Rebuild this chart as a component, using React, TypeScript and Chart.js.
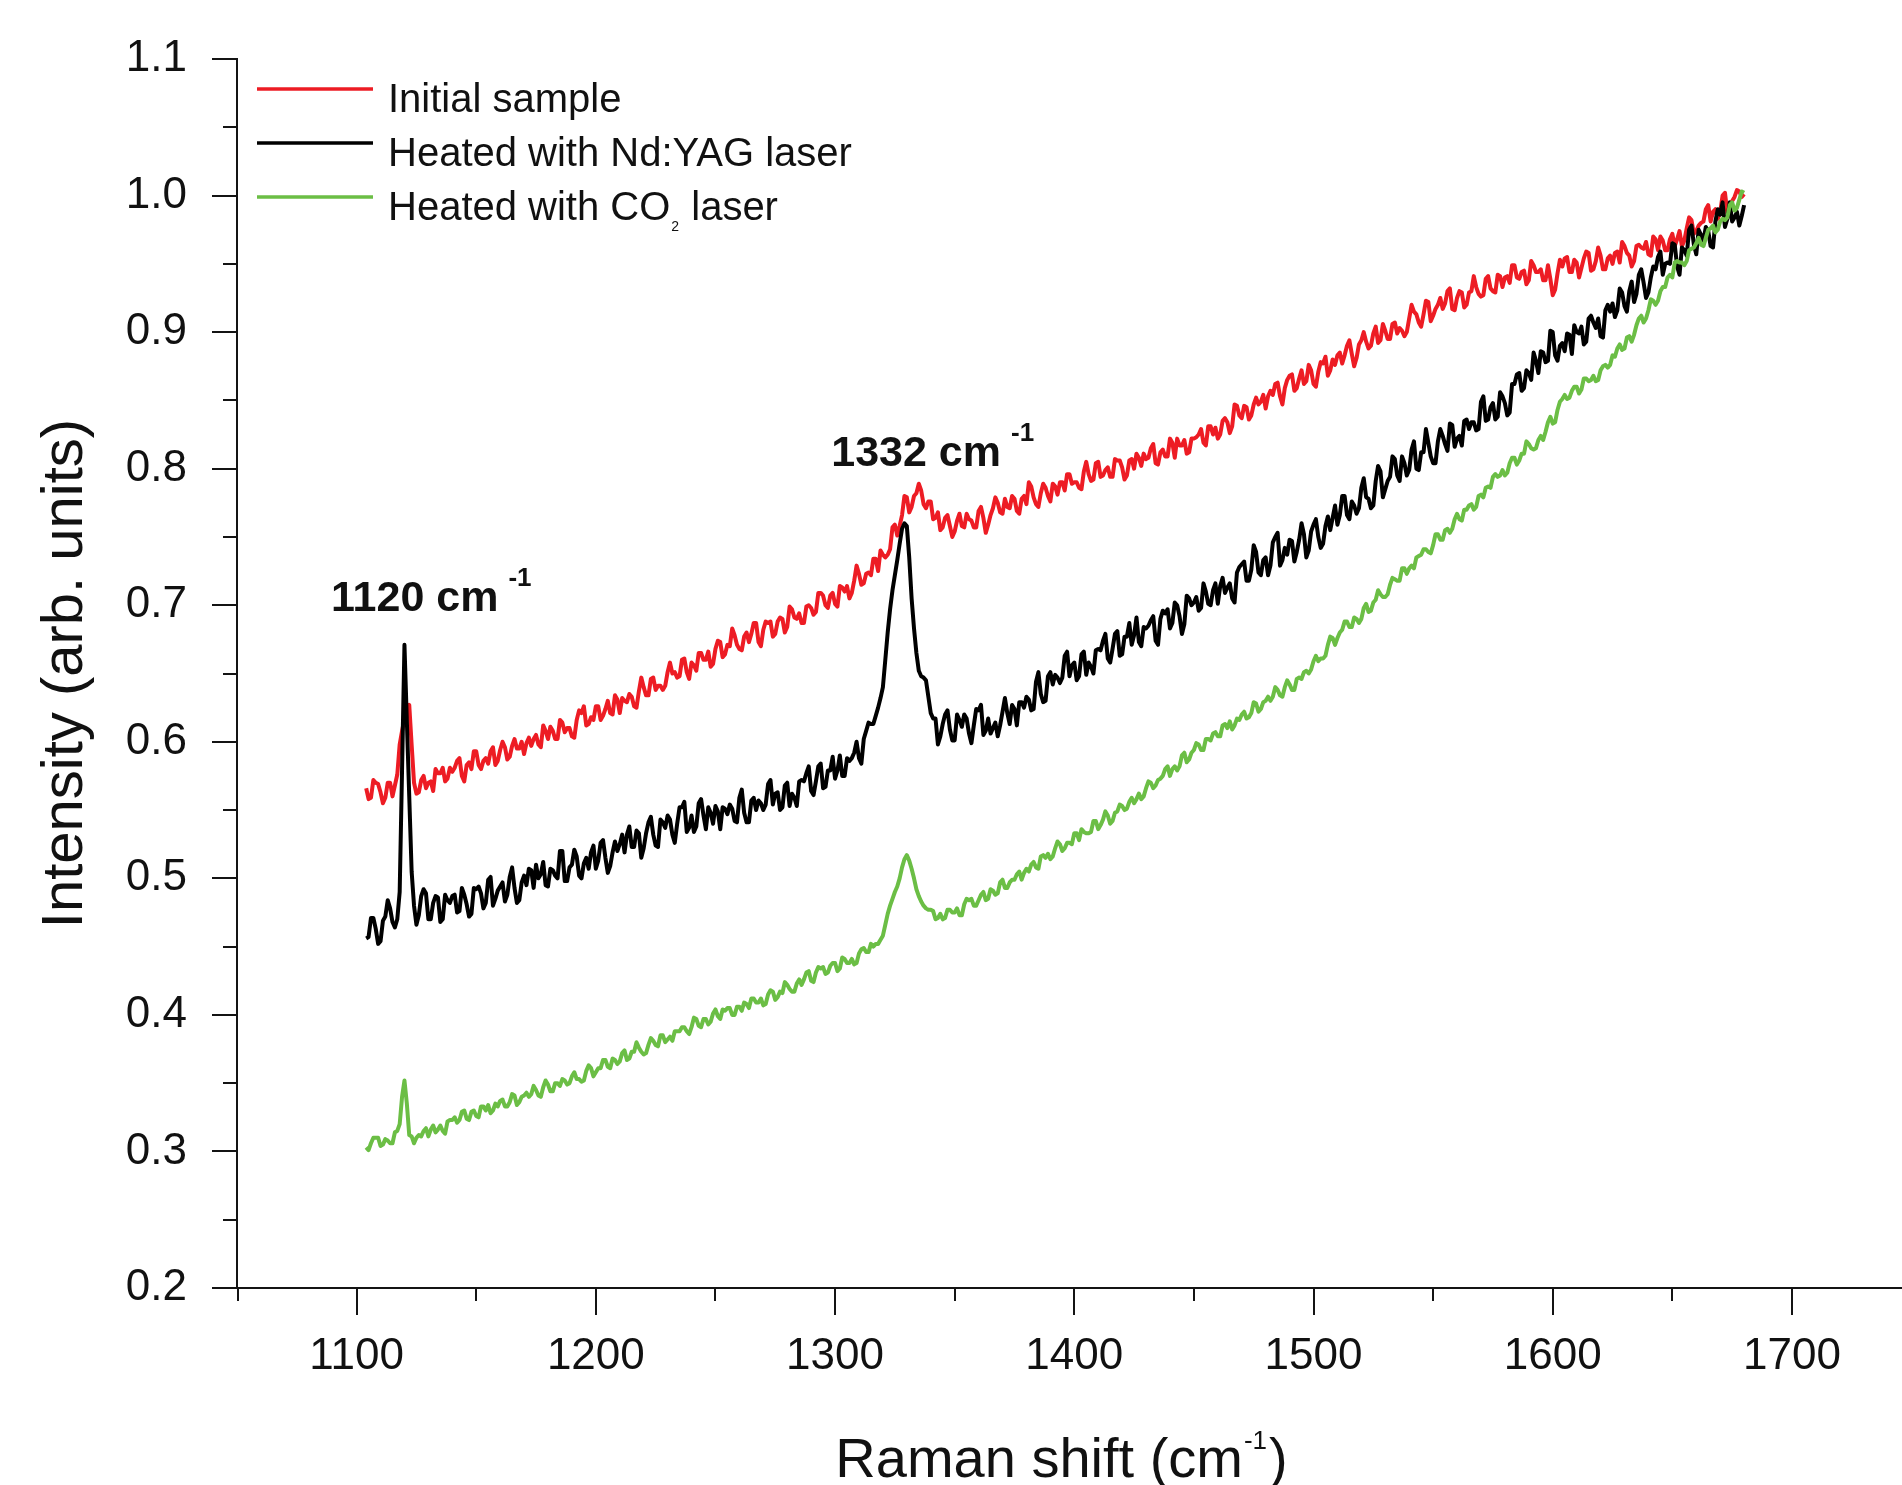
import React, { useEffect, useRef } from 'react';
import { Chart, registerables } from 'chart.js';

Chart.register(...registerables);

// ---------------- data (Raman shift in cm-1, one sample per cm-1) ----------------
const ramanShift = [
  1104, 1105, 1106, 1107, 1108, 1109, 1110, 1111, 1112, 1113, 1114, 1115, 1116, 1117, 1118, 1119, 1120, 1121, 1122, 1123,
  1124, 1125, 1126, 1127, 1128, 1129, 1130, 1131, 1132, 1133, 1134, 1135, 1136, 1137, 1138, 1139, 1140, 1141, 1142, 1143,
  1144, 1145, 1146, 1147, 1148, 1149, 1150, 1151, 1152, 1153, 1154, 1155, 1156, 1157, 1158, 1159, 1160, 1161, 1162, 1163,
  1164, 1165, 1166, 1167, 1168, 1169, 1170, 1171, 1172, 1173, 1174, 1175, 1176, 1177, 1178, 1179, 1180, 1181, 1182, 1183,
  1184, 1185, 1186, 1187, 1188, 1189, 1190, 1191, 1192, 1193, 1194, 1195, 1196, 1197, 1198, 1199, 1200, 1201, 1202, 1203,
  1204, 1205, 1206, 1207, 1208, 1209, 1210, 1211, 1212, 1213, 1214, 1215, 1216, 1217, 1218, 1219, 1220, 1221, 1222, 1223,
  1224, 1225, 1226, 1227, 1228, 1229, 1230, 1231, 1232, 1233, 1234, 1235, 1236, 1237, 1238, 1239, 1240, 1241, 1242, 1243,
  1244, 1245, 1246, 1247, 1248, 1249, 1250, 1251, 1252, 1253, 1254, 1255, 1256, 1257, 1258, 1259, 1260, 1261, 1262, 1263,
  1264, 1265, 1266, 1267, 1268, 1269, 1270, 1271, 1272, 1273, 1274, 1275, 1276, 1277, 1278, 1279, 1280, 1281, 1282, 1283,
  1284, 1285, 1286, 1287, 1288, 1289, 1290, 1291, 1292, 1293, 1294, 1295, 1296, 1297, 1298, 1299, 1300, 1301, 1302, 1303,
  1304, 1305, 1306, 1307, 1308, 1309, 1310, 1311, 1312, 1313, 1314, 1315, 1316, 1317, 1318, 1319, 1320, 1321, 1322, 1323,
  1324, 1325, 1326, 1327, 1328, 1329, 1330, 1331, 1332, 1333, 1334, 1335, 1336, 1337, 1338, 1339, 1340, 1341, 1342, 1343,
  1344, 1345, 1346, 1347, 1348, 1349, 1350, 1351, 1352, 1353, 1354, 1355, 1356, 1357, 1358, 1359, 1360, 1361, 1362, 1363,
  1364, 1365, 1366, 1367, 1368, 1369, 1370, 1371, 1372, 1373, 1374, 1375, 1376, 1377, 1378, 1379, 1380, 1381, 1382, 1383,
  1384, 1385, 1386, 1387, 1388, 1389, 1390, 1391, 1392, 1393, 1394, 1395, 1396, 1397, 1398, 1399, 1400, 1401, 1402, 1403,
  1404, 1405, 1406, 1407, 1408, 1409, 1410, 1411, 1412, 1413, 1414, 1415, 1416, 1417, 1418, 1419, 1420, 1421, 1422, 1423,
  1424, 1425, 1426, 1427, 1428, 1429, 1430, 1431, 1432, 1433, 1434, 1435, 1436, 1437, 1438, 1439, 1440, 1441, 1442, 1443,
  1444, 1445, 1446, 1447, 1448, 1449, 1450, 1451, 1452, 1453, 1454, 1455, 1456, 1457, 1458, 1459, 1460, 1461, 1462, 1463,
  1464, 1465, 1466, 1467, 1468, 1469, 1470, 1471, 1472, 1473, 1474, 1475, 1476, 1477, 1478, 1479, 1480, 1481, 1482, 1483,
  1484, 1485, 1486, 1487, 1488, 1489, 1490, 1491, 1492, 1493, 1494, 1495, 1496, 1497, 1498, 1499, 1500, 1501, 1502, 1503,
  1504, 1505, 1506, 1507, 1508, 1509, 1510, 1511, 1512, 1513, 1514, 1515, 1516, 1517, 1518, 1519, 1520, 1521, 1522, 1523,
  1524, 1525, 1526, 1527, 1528, 1529, 1530, 1531, 1532, 1533, 1534, 1535, 1536, 1537, 1538, 1539, 1540, 1541, 1542, 1543,
  1544, 1545, 1546, 1547, 1548, 1549, 1550, 1551, 1552, 1553, 1554, 1555, 1556, 1557, 1558, 1559, 1560, 1561, 1562, 1563,
  1564, 1565, 1566, 1567, 1568, 1569, 1570, 1571, 1572, 1573, 1574, 1575, 1576, 1577, 1578, 1579, 1580, 1581, 1582, 1583,
  1584, 1585, 1586, 1587, 1588, 1589, 1590, 1591, 1592, 1593, 1594, 1595, 1596, 1597, 1598, 1599, 1600, 1601, 1602, 1603,
  1604, 1605, 1606, 1607, 1608, 1609, 1610, 1611, 1612, 1613, 1614, 1615, 1616, 1617, 1618, 1619, 1620, 1621, 1622, 1623,
  1624, 1625, 1626, 1627, 1628, 1629, 1630, 1631, 1632, 1633, 1634, 1635, 1636, 1637, 1638, 1639, 1640, 1641, 1642, 1643,
  1644, 1645, 1646, 1647, 1648, 1649, 1650, 1651, 1652, 1653, 1654, 1655, 1656, 1657, 1658, 1659, 1660, 1661, 1662, 1663,
  1664, 1665, 1666, 1667, 1668, 1669, 1670, 1671, 1672, 1673, 1674, 1675, 1676, 1677, 1678, 1679, 1680,
];

const initialSample = [
  0.566, 0.558, 0.559, 0.572, 0.570, 0.569, 0.563, 0.555, 0.559, 0.570, 0.570, 0.560, 0.568, 0.576, 0.598, 0.608, 0.617, 0.624, 0.627, 0.598,
  0.570, 0.562, 0.563, 0.572, 0.575, 0.566, 0.570, 0.571, 0.564, 0.580, 0.577, 0.577, 0.581, 0.571, 0.573, 0.581, 0.578, 0.581, 0.586, 0.588,
  0.575, 0.571, 0.583, 0.585, 0.580, 0.593, 0.593, 0.583, 0.580, 0.586, 0.588, 0.584, 0.593, 0.596, 0.583, 0.586, 0.594, 0.600, 0.596, 0.587,
  0.589, 0.597, 0.602, 0.595, 0.595, 0.600, 0.591, 0.599, 0.603, 0.597, 0.602, 0.605, 0.598, 0.596, 0.612, 0.608, 0.602, 0.611, 0.608, 0.602,
  0.602, 0.616, 0.614, 0.607, 0.610, 0.610, 0.604, 0.603, 0.616, 0.623, 0.621, 0.626, 0.612, 0.613, 0.618, 0.616, 0.626, 0.626, 0.616, 0.619,
  0.624, 0.630, 0.621, 0.620, 0.634, 0.631, 0.621, 0.632, 0.630, 0.629, 0.635, 0.633, 0.626, 0.625, 0.637, 0.647, 0.640, 0.634, 0.634, 0.646,
  0.647, 0.638, 0.641, 0.641, 0.638, 0.641, 0.651, 0.658, 0.650, 0.651, 0.647, 0.648, 0.660, 0.661, 0.651, 0.646, 0.658, 0.656, 0.652, 0.665,
  0.665, 0.660, 0.660, 0.666, 0.655, 0.657, 0.668, 0.674, 0.673, 0.662, 0.664, 0.671, 0.670, 0.683, 0.678, 0.671, 0.668, 0.667, 0.677, 0.680,
  0.673, 0.679, 0.687, 0.687, 0.673, 0.670, 0.682, 0.688, 0.687, 0.688, 0.677, 0.679, 0.688, 0.691, 0.690, 0.680, 0.684, 0.699, 0.697, 0.691,
  0.690, 0.694, 0.687, 0.687, 0.699, 0.700, 0.698, 0.693, 0.695, 0.709, 0.709, 0.707, 0.700, 0.698, 0.707, 0.709, 0.701, 0.699, 0.714, 0.713,
  0.710, 0.714, 0.705, 0.709, 0.718, 0.729, 0.723, 0.715, 0.716, 0.723, 0.724, 0.722, 0.734, 0.734, 0.725, 0.740, 0.737, 0.735, 0.737, 0.741,
  0.757, 0.759, 0.751, 0.758, 0.766, 0.780, 0.779, 0.768, 0.772, 0.780, 0.782, 0.789, 0.784, 0.774, 0.771, 0.776, 0.776, 0.763, 0.764, 0.768,
  0.755, 0.757, 0.764, 0.766, 0.758, 0.750, 0.754, 0.762, 0.767, 0.758, 0.757, 0.767, 0.763, 0.762, 0.757, 0.757, 0.769, 0.772, 0.764, 0.753,
  0.759, 0.766, 0.771, 0.779, 0.775, 0.768, 0.767, 0.778, 0.772, 0.771, 0.780, 0.778, 0.769, 0.767, 0.778, 0.780, 0.774, 0.790, 0.787, 0.779,
  0.774, 0.772, 0.782, 0.789, 0.786, 0.780, 0.776, 0.789, 0.787, 0.781, 0.790, 0.790, 0.784, 0.796, 0.796, 0.789, 0.790, 0.790, 0.786, 0.785,
  0.798, 0.805, 0.796, 0.791, 0.792, 0.804, 0.805, 0.794, 0.795, 0.799, 0.801, 0.794, 0.794, 0.807, 0.806, 0.806, 0.801, 0.792, 0.795, 0.806,
  0.807, 0.800, 0.811, 0.808, 0.802, 0.811, 0.807, 0.808, 0.815, 0.818, 0.804, 0.803, 0.812, 0.814, 0.809, 0.809, 0.822, 0.819, 0.808, 0.822,
  0.817, 0.817, 0.821, 0.811, 0.812, 0.822, 0.822, 0.823, 0.825, 0.829, 0.819, 0.817, 0.831, 0.831, 0.825, 0.830, 0.822, 0.825, 0.835, 0.837,
  0.834, 0.826, 0.831, 0.847, 0.846, 0.839, 0.837, 0.846, 0.845, 0.836, 0.839, 0.847, 0.852, 0.847, 0.849, 0.854, 0.844, 0.853, 0.857, 0.854,
  0.862, 0.863, 0.853, 0.847, 0.859, 0.865, 0.868, 0.869, 0.857, 0.859, 0.866, 0.872, 0.862, 0.864, 0.876, 0.872, 0.862, 0.860, 0.871, 0.878,
  0.877, 0.882, 0.868, 0.872, 0.880, 0.876, 0.883, 0.885, 0.877, 0.883, 0.890, 0.894, 0.884, 0.875, 0.881, 0.891, 0.894, 0.900, 0.893, 0.888,
  0.890, 0.899, 0.904, 0.892, 0.894, 0.906, 0.901, 0.895, 0.895, 0.906, 0.907, 0.899, 0.903, 0.901, 0.897, 0.900, 0.910, 0.920, 0.915, 0.913,
  0.907, 0.904, 0.913, 0.923, 0.922, 0.908, 0.912, 0.917, 0.920, 0.925, 0.917, 0.921, 0.930, 0.932, 0.917, 0.916, 0.925, 0.930, 0.929, 0.918,
  0.920, 0.929, 0.930, 0.941, 0.933, 0.928, 0.926, 0.927, 0.939, 0.941, 0.932, 0.930, 0.929, 0.942, 0.941, 0.933, 0.940, 0.941, 0.936, 0.949,
  0.949, 0.940, 0.939, 0.944, 0.945, 0.935, 0.938, 0.952, 0.949, 0.944, 0.944, 0.946, 0.938, 0.938, 0.949, 0.939, 0.927, 0.931, 0.943, 0.953,
  0.948, 0.954, 0.955, 0.944, 0.944, 0.953, 0.951, 0.940, 0.947, 0.954, 0.959, 0.958, 0.945, 0.946, 0.952, 0.962, 0.956, 0.946, 0.946, 0.954,
  0.956, 0.950, 0.958, 0.959, 0.951, 0.966, 0.963, 0.958, 0.956, 0.948, 0.952, 0.963, 0.964, 0.962, 0.961, 0.966, 0.957, 0.956, 0.970, 0.968,
  0.960, 0.970, 0.967, 0.960, 0.960, 0.968, 0.972, 0.963, 0.968, 0.974, 0.963, 0.967, 0.976, 0.984, 0.982, 0.972, 0.974, 0.978, 0.980, 0.981,
  0.990, 0.993, 0.981, 0.988, 0.990, 0.983, 0.988, 1.000, 1.002, 0.987, 0.990, 0.996, 0.999, 1.004, 1.003, 0.999, 1.001,
];

const heatedNdYag = [
  0.456, 0.457, 0.471, 0.471, 0.463, 0.452, 0.454, 0.469, 0.472, 0.484, 0.478, 0.468, 0.464, 0.470, 0.490, 0.580, 0.671, 0.615, 0.560, 0.505,
  0.480, 0.466, 0.473, 0.487, 0.492, 0.489, 0.470, 0.470, 0.482, 0.487, 0.486, 0.468, 0.470, 0.488, 0.484, 0.482, 0.487, 0.488, 0.475, 0.476,
  0.493, 0.488, 0.481, 0.472, 0.474, 0.493, 0.492, 0.494, 0.489, 0.478, 0.482, 0.499, 0.501, 0.480, 0.485, 0.491, 0.494, 0.497, 0.483, 0.488,
  0.501, 0.508, 0.493, 0.482, 0.484, 0.497, 0.502, 0.495, 0.507, 0.506, 0.493, 0.510, 0.500, 0.503, 0.512, 0.495, 0.494, 0.507, 0.506, 0.502,
  0.500, 0.520, 0.520, 0.498, 0.498, 0.508, 0.510, 0.521, 0.516, 0.502, 0.500, 0.511, 0.515, 0.507, 0.519, 0.524, 0.507, 0.513, 0.526, 0.528,
  0.515, 0.504, 0.509, 0.519, 0.527, 0.520, 0.525, 0.532, 0.519, 0.532, 0.538, 0.523, 0.523, 0.535, 0.533, 0.515, 0.522, 0.533, 0.541, 0.545,
  0.532, 0.524, 0.523, 0.543, 0.541, 0.537, 0.546, 0.543, 0.532, 0.526, 0.540, 0.552, 0.552, 0.556, 0.534, 0.537, 0.546, 0.534, 0.538, 0.555,
  0.558, 0.546, 0.536, 0.552, 0.548, 0.540, 0.553, 0.549, 0.536, 0.552, 0.551, 0.547, 0.554, 0.551, 0.542, 0.541, 0.559, 0.565, 0.548, 0.541,
  0.541, 0.557, 0.559, 0.550, 0.557, 0.555, 0.550, 0.554, 0.569, 0.572, 0.554, 0.562, 0.563, 0.550, 0.552, 0.568, 0.570, 0.553, 0.562, 0.559,
  0.553, 0.571, 0.572, 0.571, 0.577, 0.582, 0.564, 0.561, 0.571, 0.582, 0.584, 0.566, 0.567, 0.579, 0.579, 0.589, 0.573, 0.579, 0.590, 0.575,
  0.575, 0.588, 0.586, 0.588, 0.592, 0.600, 0.588, 0.584, 0.602, 0.608, 0.614, 0.613, 0.613, 0.619, 0.625, 0.632, 0.640, 0.660, 0.680, 0.697,
  0.711, 0.722, 0.733, 0.745, 0.756, 0.760, 0.758, 0.735, 0.705, 0.683, 0.665, 0.652, 0.648, 0.647, 0.645, 0.633, 0.621, 0.617, 0.617, 0.598,
  0.604, 0.613, 0.620, 0.623, 0.609, 0.601, 0.601, 0.620, 0.616, 0.611, 0.620, 0.617, 0.606, 0.599, 0.612, 0.624, 0.623, 0.627, 0.605, 0.608,
  0.617, 0.606, 0.610, 0.614, 0.604, 0.612, 0.622, 0.632, 0.621, 0.613, 0.627, 0.624, 0.612, 0.629, 0.629, 0.625, 0.633, 0.631, 0.623, 0.624,
  0.644, 0.651, 0.635, 0.629, 0.630, 0.648, 0.651, 0.642, 0.649, 0.647, 0.643, 0.647, 0.663, 0.666, 0.648, 0.656, 0.658, 0.645, 0.648, 0.664,
  0.666, 0.649, 0.658, 0.655, 0.650, 0.667, 0.668, 0.667, 0.674, 0.679, 0.661, 0.658, 0.668, 0.679, 0.681, 0.663, 0.664, 0.677, 0.677, 0.687,
  0.671, 0.678, 0.691, 0.673, 0.670, 0.684, 0.683, 0.685, 0.689, 0.692, 0.674, 0.671, 0.690, 0.696, 0.694, 0.697, 0.683, 0.687, 0.702, 0.700,
  0.692, 0.679, 0.686, 0.707, 0.705, 0.700, 0.702, 0.706, 0.696, 0.698, 0.716, 0.710, 0.701, 0.700, 0.711, 0.716, 0.701, 0.714, 0.720, 0.709,
  0.713, 0.716, 0.705, 0.702, 0.724, 0.728, 0.730, 0.732, 0.718, 0.718, 0.726, 0.744, 0.739, 0.724, 0.722, 0.733, 0.735, 0.722, 0.729, 0.746,
  0.750, 0.753, 0.729, 0.733, 0.742, 0.737, 0.748, 0.747, 0.732, 0.739, 0.748, 0.760, 0.752, 0.735, 0.740, 0.754, 0.759, 0.763, 0.750, 0.742,
  0.745, 0.758, 0.765, 0.755, 0.764, 0.773, 0.759, 0.766, 0.780, 0.780, 0.766, 0.763, 0.776, 0.773, 0.767, 0.771, 0.786, 0.793, 0.779, 0.778,
  0.771, 0.773, 0.791, 0.802, 0.798, 0.779, 0.785, 0.791, 0.794, 0.809, 0.807, 0.795, 0.791, 0.809, 0.804, 0.795, 0.799, 0.814, 0.820, 0.800,
  0.799, 0.812, 0.812, 0.829, 0.819, 0.809, 0.804, 0.804, 0.820, 0.829, 0.824, 0.818, 0.813, 0.833, 0.832, 0.816, 0.822, 0.824, 0.817, 0.835,
  0.836, 0.829, 0.834, 0.834, 0.828, 0.829, 0.849, 0.853, 0.835, 0.836, 0.845, 0.848, 0.836, 0.838, 0.856, 0.853, 0.848, 0.839, 0.841, 0.862,
  0.862, 0.869, 0.870, 0.857, 0.859, 0.872, 0.870, 0.865, 0.885, 0.879, 0.870, 0.886, 0.885, 0.878, 0.879, 0.901, 0.900, 0.883, 0.879, 0.890,
  0.892, 0.886, 0.899, 0.898, 0.884, 0.905, 0.900, 0.899, 0.904, 0.891, 0.893, 0.910, 0.912, 0.907, 0.903, 0.910, 0.897, 0.896, 0.916, 0.920,
  0.915, 0.921, 0.911, 0.916, 0.932, 0.929, 0.919, 0.915, 0.930, 0.937, 0.922, 0.928, 0.942, 0.946, 0.936, 0.925, 0.929, 0.940, 0.948, 0.946,
  0.955, 0.959, 0.942, 0.950, 0.951, 0.950, 0.965, 0.964, 0.948, 0.942, 0.962, 0.960, 0.956, 0.975, 0.978, 0.964, 0.957, 0.975, 0.971, 0.967,
  0.977, 0.974, 0.963, 0.962, 0.981, 0.990, 0.986, 0.995, 0.977, 0.983, 0.995, 0.981, 0.984, 0.988, 0.978, 0.985, 0.993,
];

const heatedCo2 = [
  0.303, 0.301, 0.306, 0.310, 0.310, 0.310, 0.304, 0.305, 0.309, 0.308, 0.306, 0.306, 0.314, 0.315, 0.320, 0.340, 0.352, 0.335, 0.312, 0.311,
  0.306, 0.310, 0.312, 0.311, 0.315, 0.317, 0.311, 0.316, 0.319, 0.314, 0.316, 0.319, 0.315, 0.313, 0.322, 0.323, 0.323, 0.325, 0.321, 0.323,
  0.329, 0.330, 0.324, 0.323, 0.329, 0.330, 0.326, 0.325, 0.333, 0.333, 0.330, 0.334, 0.328, 0.330, 0.335, 0.333, 0.337, 0.338, 0.333, 0.333,
  0.336, 0.342, 0.341, 0.334, 0.336, 0.340, 0.341, 0.343, 0.340, 0.342, 0.348, 0.345, 0.341, 0.340, 0.347, 0.352, 0.349, 0.344, 0.344, 0.350,
  0.350, 0.348, 0.353, 0.352, 0.349, 0.350, 0.355, 0.358, 0.353, 0.353, 0.351, 0.352, 0.359, 0.363, 0.361, 0.355, 0.358, 0.361, 0.361, 0.367,
  0.367, 0.362, 0.361, 0.368, 0.367, 0.364, 0.366, 0.372, 0.374, 0.367, 0.368, 0.373, 0.373, 0.380, 0.376, 0.373, 0.371, 0.372, 0.378, 0.383,
  0.381, 0.378, 0.377, 0.385, 0.385, 0.380, 0.382, 0.384, 0.381, 0.388, 0.388, 0.388, 0.391, 0.391, 0.388, 0.386, 0.391, 0.398, 0.397, 0.392,
  0.391, 0.397, 0.397, 0.393, 0.395, 0.401, 0.404, 0.399, 0.397, 0.404, 0.403, 0.405, 0.405, 0.400, 0.400, 0.406, 0.406, 0.403, 0.409, 0.408,
  0.405, 0.412, 0.412, 0.409, 0.409, 0.412, 0.407, 0.408, 0.415, 0.418, 0.417, 0.411, 0.413, 0.417, 0.416, 0.424, 0.422, 0.419, 0.417, 0.417,
  0.423, 0.426, 0.422, 0.426, 0.431, 0.432, 0.425, 0.424, 0.431, 0.435, 0.434, 0.435, 0.430, 0.431, 0.436, 0.438, 0.438, 0.432, 0.434, 0.442,
  0.441, 0.438, 0.438, 0.441, 0.437, 0.438, 0.445, 0.448, 0.449, 0.446, 0.446, 0.452, 0.450, 0.452, 0.452, 0.455, 0.458, 0.466, 0.474, 0.480,
  0.485, 0.490, 0.494, 0.500, 0.508, 0.514, 0.517, 0.513, 0.507, 0.500, 0.492, 0.487, 0.483, 0.480, 0.478, 0.477, 0.477, 0.476, 0.470, 0.471,
  0.474, 0.470, 0.471, 0.477, 0.477, 0.475, 0.475, 0.478, 0.473, 0.473, 0.481, 0.485, 0.484, 0.485, 0.480, 0.480, 0.484, 0.488, 0.490, 0.484,
  0.485, 0.492, 0.491, 0.488, 0.489, 0.497, 0.499, 0.493, 0.493, 0.497, 0.499, 0.499, 0.503, 0.505, 0.499, 0.504, 0.507, 0.505, 0.510, 0.512,
  0.508, 0.507, 0.516, 0.517, 0.515, 0.518, 0.514, 0.516, 0.522, 0.527, 0.525, 0.520, 0.522, 0.526, 0.526, 0.525, 0.533, 0.533, 0.528, 0.536,
  0.534, 0.533, 0.533, 0.534, 0.542, 0.542, 0.536, 0.539, 0.543, 0.549, 0.546, 0.540, 0.542, 0.548, 0.549, 0.554, 0.553, 0.550, 0.551, 0.556,
  0.559, 0.555, 0.558, 0.562, 0.558, 0.560, 0.566, 0.571, 0.570, 0.566, 0.568, 0.572, 0.573, 0.575, 0.580, 0.582, 0.575, 0.580, 0.582, 0.579,
  0.582, 0.590, 0.592, 0.585, 0.587, 0.592, 0.594, 0.599, 0.598, 0.594, 0.594, 0.602, 0.602, 0.601, 0.606, 0.607, 0.604, 0.604, 0.612, 0.613,
  0.610, 0.615, 0.609, 0.612, 0.617, 0.616, 0.620, 0.622, 0.617, 0.618, 0.621, 0.629, 0.628, 0.622, 0.624, 0.629, 0.630, 0.633, 0.630, 0.633,
  0.640, 0.638, 0.634, 0.633, 0.640, 0.645, 0.642, 0.638, 0.638, 0.646, 0.647, 0.646, 0.651, 0.652, 0.650, 0.653, 0.659, 0.663, 0.659, 0.661,
  0.661, 0.663, 0.671, 0.677, 0.676, 0.671, 0.676, 0.680, 0.682, 0.688, 0.688, 0.684, 0.684, 0.691, 0.690, 0.687, 0.690, 0.698, 0.701, 0.695,
  0.696, 0.702, 0.704, 0.711, 0.708, 0.706, 0.706, 0.708, 0.715, 0.720, 0.719, 0.718, 0.718, 0.727, 0.727, 0.723, 0.727, 0.729, 0.727, 0.735,
  0.736, 0.737, 0.741, 0.741, 0.739, 0.738, 0.744, 0.752, 0.752, 0.748, 0.748, 0.755, 0.756, 0.753, 0.756, 0.763, 0.767, 0.763, 0.762, 0.770,
  0.770, 0.773, 0.774, 0.770, 0.772, 0.780, 0.781, 0.779, 0.786, 0.787, 0.786, 0.794, 0.796, 0.794, 0.795, 0.799, 0.795, 0.797, 0.804, 0.808,
  0.808, 0.803, 0.806, 0.811, 0.811, 0.820, 0.818, 0.815, 0.814, 0.815, 0.821, 0.824, 0.821, 0.827, 0.834, 0.838, 0.833, 0.834, 0.843, 0.849,
  0.851, 0.854, 0.851, 0.852, 0.857, 0.860, 0.860, 0.855, 0.858, 0.866, 0.866, 0.864, 0.865, 0.868, 0.864, 0.865, 0.872, 0.875, 0.876, 0.874,
  0.876, 0.883, 0.882, 0.888, 0.891, 0.887, 0.888, 0.896, 0.897, 0.893, 0.898, 0.905, 0.910, 0.912, 0.907, 0.910, 0.916, 0.924, 0.923, 0.920,
  0.923, 0.930, 0.933, 0.933, 0.940, 0.942, 0.940, 0.951, 0.952, 0.951, 0.951, 0.949, 0.952, 0.960, 0.961, 0.962, 0.965, 0.969, 0.964, 0.963,
  0.969, 0.975, 0.976, 0.978, 0.973, 0.975, 0.981, 0.983, 0.982, 0.984, 0.993, 0.995, 0.989, 0.991, 0.997, 1.003, 1.002,
];

const seriesLabels = ['Initial sample', 'Heated with Nd:YAG laser', 'Heated with CO\u2082 laser'];
const seriesColors = ['#ED1C24', '#000000', '#6BBE45'];
const seriesDrawOrder = [2, 1, 0];

const xTickValues = [1100, 1200, 1300, 1400, 1500, 1600, 1700];
const xMinorTickValues = [1050, 1150, 1250, 1350, 1450, 1550, 1650];
const yTickValues = [0.2, 0.3, 0.4, 0.5, 0.6, 0.7, 0.8, 0.9, 1.0, 1.1];
const yMinorTickValues = [0.25, 0.35, 0.45, 0.55, 0.65, 0.75, 0.85, 0.95, 1.05];

const xAxisTitle = 'Raman shift (cm';
const xAxisTitleSup = '-1';
const xAxisTitleEnd = ')';
const yAxisTitle = 'Intensity (arb. units)';

const peakLabelTexts = ['1120 cm', '1332 cm'];
const peakLabelSup = '-1';
const peakLabelAnchorX = [1089.3, 1298.4];
const peakLabelAnchorY = [0.6955, 0.8017];

// ---------------- styles ----------------
const FONT = '"Liberation Sans", Arial, Helvetica, sans-serif';
const AXIS_COLOR = '#141414';
const TEXT_COLOR = '#111111';

const decorPlugin = {
  id: 'decor',
  afterDraw(chart: any) {
    const { ctx, chartArea: area } = chart;
    const xs = chart.scales.x;
    const ys = chart.scales.y;
    ctx.save();

    // tick marks (major + minor), pointing outward
    ctx.strokeStyle = AXIS_COLOR;
    ctx.lineWidth = 2;
    ctx.beginPath();
    xTickValues.forEach((v) => {
      const p = Math.round(xs.getPixelForValue(v));
      ctx.moveTo(p, area.bottom);
      ctx.lineTo(p, area.bottom + 27);
    });
    xMinorTickValues.forEach((v) => {
      const p = Math.round(xs.getPixelForValue(v)) + (v === 1050 ? 1 : 0);
      ctx.moveTo(p, area.bottom);
      ctx.lineTo(p, area.bottom + 13);
    });
    yTickValues.forEach((v) => {
      const p = Math.round(ys.getPixelForValue(v));
      ctx.moveTo(area.left, p);
      ctx.lineTo(area.left - 25, p);
    });
    yMinorTickValues.forEach((v) => {
      const p = Math.round(ys.getPixelForValue(v));
      ctx.moveTo(area.left, p);
      ctx.lineTo(area.left - 14, p);
    });
    ctx.stroke();

    ctx.fillStyle = TEXT_COLOR;
    ctx.textAlign = 'left';
    ctx.textBaseline = 'alphabetic';

    // x axis title with superscript
    ctx.font = `56px ${FONT}`;
    const w1 = ctx.measureText(xAxisTitle).width;
    const w3 = ctx.measureText(xAxisTitleEnd).width;
    ctx.font = `26px ${FONT}`;
    const w2 = ctx.measureText(xAxisTitleSup).width;
    const total = w1 + 1 + w2 + 2 + w3;
    const tx = (area.left + area.right) / 2 - total / 2 - 8;
    const ty = area.bottom + 189;
    ctx.font = `56px ${FONT}`;
    ctx.fillText(xAxisTitle, tx, ty);
    ctx.font = `26px ${FONT}`;
    ctx.fillText(xAxisTitleSup, tx + w1 + 1, ty - 28);
    ctx.font = `56px ${FONT}`;
    ctx.fillText(xAxisTitleEnd, tx + w1 + 1 + w2 + 2, ty);

    // peak annotations
    peakLabelTexts.forEach((t, i) => {
      const px = xs.getPixelForValue(peakLabelAnchorX[i]);
      const py = ys.getPixelForValue(peakLabelAnchorY[i]);
      ctx.font = `bold 43px ${FONT}`;
      ctx.fillText(t, px, py);
      const w = ctx.measureText(t).width;
      ctx.font = `bold 26px ${FONT}`;
      ctx.fillText(peakLabelSup, px + w + 10, py - 25);
    });

    // legend (inside plot, top-left)
    chart.data.datasets.forEach((ds: any, i: number) => {
      const ly = area.top + 30 + i * 54;
      const lx = area.left + 20;
      ctx.strokeStyle = ds.borderColor;
      ctx.lineWidth = 3.5;
      ctx.beginPath();
      ctx.moveTo(lx, ly);
      ctx.lineTo(lx + 116, ly);
      ctx.stroke();

      const parts = String(ds.label).split('\u2082');
      let cx = area.left + 151;
      const by = ly + 22.7;
      ctx.fillStyle = TEXT_COLOR;
      parts.forEach((part: string, k: number) => {
        if (k > 0) {
          ctx.font = `14px ${FONT}`;
          ctx.fillText('2', cx + 1, by + 11.5);
          cx += ctx.measureText('2').width + 2;
        }
        ctx.font = `40px ${FONT}`;
        ctx.fillText(part, cx, by);
        cx += ctx.measureText(part).width;
      });
    });

    ctx.restore();
  },
};

export default function App() {
  const canvasRef = useRef<HTMLCanvasElement>(null);

  useEffect(() => {
    const canvas = canvasRef.current;
    if (!canvas) return;
    const seriesValues = [initialSample, heatedNdYag, heatedCo2];
    const chart = new Chart(canvas, {
      type: 'line',
      data: {
        datasets: seriesValues.map((vals, s) => ({
          label: seriesLabels[s],
          data: ramanShift.map((x, i) => ({ x, y: vals[i] })),
          borderColor: seriesColors[s],
          backgroundColor: seriesColors[s],
          borderWidth: 4,
          pointRadius: 0,
          pointHoverRadius: 0,
          tension: 0,
          fill: false,
          borderJoinStyle: 'round' as const,
          order: seriesDrawOrder[s],
        })),
      },
      options: {
        responsive: false,
        animation: false,
        devicePixelRatio: 1,
        events: [],
        layout: { padding: { top: 59, left: 0, right: 0, bottom: 0 } },
        plugins: {
          legend: { display: false },
          tooltip: { enabled: false },
          title: { display: false },
        },
        scales: {
          x: {
            type: 'linear',
            min: 1050,
            max: 1746,
            grid: { display: false, drawTicks: false },
            border: { display: true, color: AXIS_COLOR, width: 2 },
            ticks: {
              autoSkip: false,
              maxRotation: 0,
              padding: 42,
              color: TEXT_COLOR,
              font: { family: FONT, size: 44 },
              callback: (v: any) => String(v),
            },
            afterBuildTicks: (s: any) => {
              s.ticks = xTickValues.map((v) => ({ value: v }));
            },
            afterFit: (s: any) => {
              s.height = 197;
              s.paddingLeft = 0;
              s.paddingRight = 0;
            },
          },
          y: {
            type: 'linear',
            min: 0.2,
            max: 1.1,
            grid: { display: false, drawTicks: false },
            border: { display: true, color: AXIS_COLOR, width: 2 },
            ticks: {
              autoSkip: false,
              padding: 50,
              color: TEXT_COLOR,
              font: { family: FONT, size: 44 },
              callback: (v: any) => Number(v).toFixed(1),
            },
            afterBuildTicks: (s: any) => {
              s.ticks = yTickValues.map((v) => ({ value: v }));
            },
            afterFit: (s: any) => {
              s.width = 237;
              s.paddingTop = 0;
              s.paddingBottom = 0;
            },
            title: {
              display: true,
              text: yAxisTitle,
              color: TEXT_COLOR,
              font: { family: FONT, size: 58 },
              padding: { top: 31, bottom: 0 },
            },
          },
        },
      },
      plugins: [decorPlugin],
    } as any);
    return () => chart.destroy();
  }, []);

  return (
    <div style={{ position: 'absolute', left: 0, top: 0, width: 1902, height: 1485, background: '#ffffff' }}>
      <canvas ref={canvasRef} width={1902} height={1485} style={{ display: 'block', width: 1902, height: 1485 }} />
    </div>
  );
}
